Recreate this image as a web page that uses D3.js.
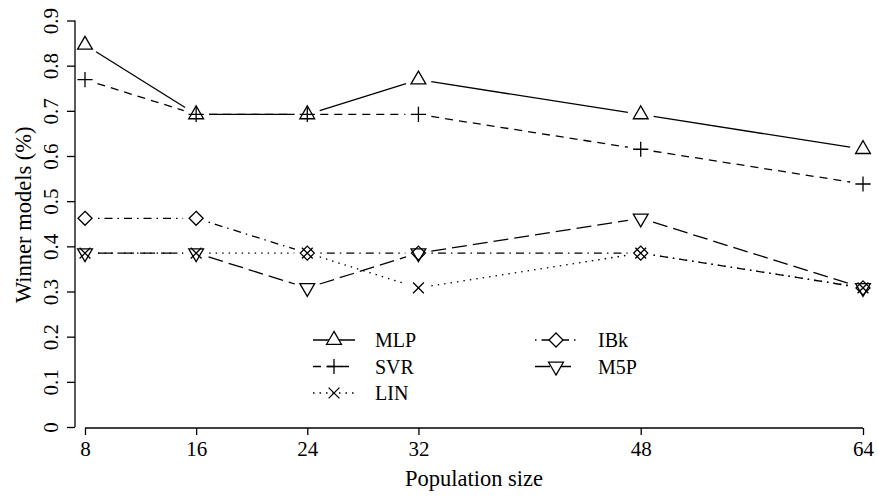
<!DOCTYPE html>
<html>
<head>
<meta charset="utf-8">
<script src="https://cdn.jsdelivr.net/npm/d3@7"></script>
<style>
  html, body { margin: 0; padding: 0; background: #fff; }
  svg { display: block; }
</style>
</head>
<body>
<svg id="chart" width="878" height="498"></svg>
<script>
// Population sizes on the x axis
const popSizes = [8, 16, 24, 32, 48, 64];
// Share of winner models per learner
const mlp = [0.846, 0.692, 0.692, 0.769, 0.692, 0.615];
const svr = [0.769, 0.692, 0.692, 0.692, 0.615, 0.538];
const lin = [0.385, 0.385, 0.385, 0.308, 0.385, 0.308];
const ibk = [0.462, 0.462, 0.385, 0.385, 0.385, 0.308];
const m5p = [0.385, 0.385, 0.308, 0.385, 0.462, 0.308];
const seriesNames = ["MLP", "SVR", "LIN", "IBk", "M5P"];
const yTicks = [0, 0.1, 0.2, 0.3, 0.4, 0.5, 0.6, 0.7, 0.8, 0.9];
const yTickLabels = ["0", "0.1", "0.2", "0.3", "0.4", "0.5", "0.6", "0.7", "0.8", "0.9"];

const seriesValues = [mlp, svr, lin, ibk, m5p];
const dashes = ["none", "8,6", "1.5,5", "1.5,5,8,5", "15,6"];
const shapes = ["tri", "plus", "cross", "diamond", "itri"];

const FONT = "Liberation Serif";

const svg = d3.select("#chart");
const x = d3.scaleLinear().domain([8, 64]).range([85, 863]);
const y = d3.scaleLinear().domain([0, 0.9]).range([427, 20.5]);

const ink = "#000";
const lw = 1.3;

// Marker path builder (open symbols)
function markerPath(shape) {
  const R = 5.5;
  const p = d3.path();
  if (shape === "tri") {
    p.moveTo(0, -1.555 * R); p.lineTo(1.347 * R, 0.778 * R); p.lineTo(-1.347 * R, 0.778 * R); p.closePath();
  } else if (shape === "itri") {
    p.moveTo(0, 1.555 * R); p.lineTo(1.347 * R, -0.778 * R); p.lineTo(-1.347 * R, -0.778 * R); p.closePath();
  } else if (shape === "plus") {
    const a = 7.6;
    p.moveTo(-a, 0); p.lineTo(a, 0); p.moveTo(0, -a); p.lineTo(0, a);
  } else if (shape === "cross") {
    const a = 5.4;
    p.moveTo(-a, -a); p.lineTo(a, a); p.moveTo(-a, a); p.lineTo(a, -a);
  } else if (shape === "diamond") {
    const a = 7;
    p.moveTo(0, -a); p.lineTo(a, 0); p.lineTo(0, a); p.lineTo(-a, 0); p.closePath();
  }
  return p.toString();
}

// Axes
const yAxis = d3.axisLeft(y).tickValues(yTicks).tickFormat((d, i) => yTickLabels[i]).tickSize(8);
const gy = svg.append("g").attr("transform", "translate(75,0)").call(yAxis)
  .attr("font-family", FONT).attr("font-size", 21);
gy.select(".domain").attr("d", `M0,${y(0.9)}V${y(0)}`);
gy.selectAll("line, path").attr("stroke", ink).attr("stroke-width", lw);
gy.selectAll(".tick text")
  .attr("x", null).attr("dy", null)
  .attr("text-anchor", "middle")
  .attr("fill", ink)
  .attr("font-family", FONT)
  .attr("transform", "translate(-17,0) rotate(-90)");

const xAxis = d3.axisBottom(x).tickValues(popSizes).tickFormat(d3.format("d")).tickSize(7);
const gx = svg.append("g").attr("transform", "translate(0,428)").call(xAxis)
  .attr("font-family", FONT).attr("font-size", 21);
gx.select(".domain").attr("d", `M${x(8)},0H${x(64)}`);
gx.selectAll("line, path").attr("stroke", ink).attr("stroke-width", lw);
gx.selectAll(".tick text").attr("y", 28).attr("dy", null).attr("fill", ink)
  .attr("font-family", FONT);

// Axis titles
svg.append("text")
  .attr("x", x(36)).attr("y", 486)
  .attr("text-anchor", "middle")
  .attr("font-family", FONT).attr("font-size", 22.5)
  .text("Population size");
svg.append("text")
  .attr("transform", `translate(31,${y(0.47)}) rotate(-90)`)
  .attr("text-anchor", "middle")
  .attr("font-family", FONT).attr("font-size", 22.5)
  .text("Winner models (%)");

// Series: segments with gaps around points, then open markers
const gap = 13;
seriesValues.forEach((vals, si) => {
  const g = svg.append("g");
  for (let i = 0; i < vals.length - 1; i++) {
    const x0 = x(popSizes[i]), y0 = y(vals[i]);
    const x1 = x(popSizes[i + 1]), y1 = y(vals[i + 1]);
    const len = Math.hypot(x1 - x0, y1 - y0);
    if (len <= 2 * gap) continue;
    const ux = (x1 - x0) / len, uy = (y1 - y0) / len;
    g.append("line")
      .attr("x1", x0 + ux * gap).attr("y1", y0 + uy * gap)
      .attr("x2", x1 - ux * gap).attr("y2", y1 - uy * gap)
      .attr("stroke", ink).attr("stroke-width", lw)
      .attr("stroke-dasharray", dashes[si]);
  }
  g.selectAll("path.mk")
    .data(vals)
    .join("path")
    .attr("class", "mk")
    .attr("transform", (d, i) => `translate(${x(popSizes[i])},${y(d)})`)
    .attr("d", markerPath(shapes[si]))
    .attr("fill", "none").attr("stroke", ink).attr("stroke-width", lw);
});

// Legend (two columns)
const legendPos = [
  { lx: 313, rx: 355, mx: 334, tx: 375, y: 340 },
  { lx: 313, rx: 355, mx: 334, tx: 375, y: 366.5 },
  { lx: 313, rx: 355, mx: 334, tx: 375, y: 393 },
  { lx: 535, rx: 577, mx: 556, tx: 598, y: 340 },
  { lx: 535, rx: 577, mx: 556, tx: 598, y: 366.5 }
];
const lg = svg.append("g");
seriesNames.forEach((name, si) => {
  const p = legendPos[si];
  lg.append("line")
    .attr("x1", p.lx).attr("x2", p.rx).attr("y1", p.y).attr("y2", p.y)
    .attr("stroke", ink).attr("stroke-width", lw)
    .attr("stroke-dasharray", dashes[si]);
  lg.append("path")
    .attr("transform", `translate(${p.mx},${p.y})`)
    .attr("d", markerPath(shapes[si]))
    .attr("fill", "#fff").attr("stroke", ink).attr("stroke-width", lw);
  lg.append("text")
    .attr("x", p.tx).attr("y", p.y + 7)
    .attr("font-family", FONT).attr("font-size", 20)
    .text(name);
});
</script>
</body>
</html>
